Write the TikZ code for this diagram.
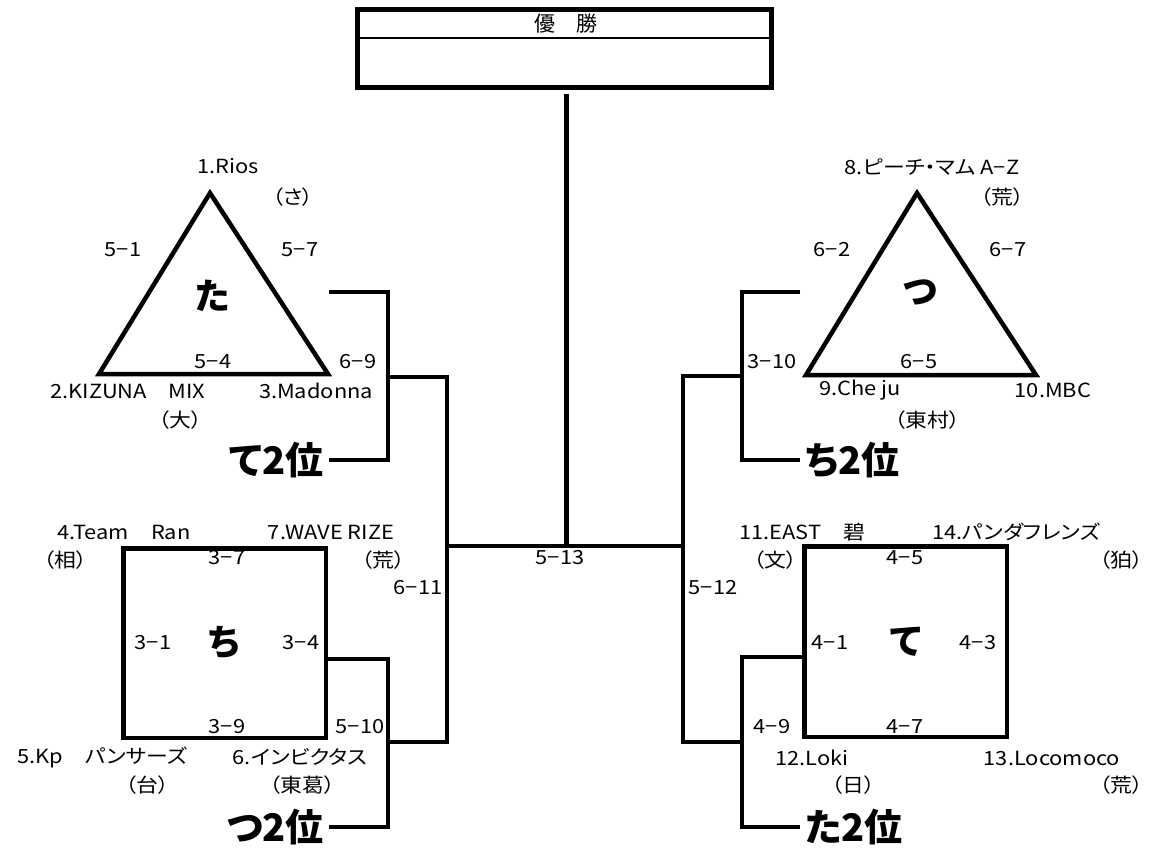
\documentclass[tikz,border=0pt]{standalone}
\usepackage{fontspec}
\setmainfont{Noto Sans CJK JP}[RawFeature={+palt}]
\newfontfamily\lblfont{Noto Sans CJK JP}[RawFeature={+palt}, FakeStretch=1.12]
\usetikzlibrary{positioning}

\begin{document}
\begin{tikzpicture}[x=1pt, y=-1pt,
  lbl/.style={font=\lblfont\fontsize{19.5}{19.5}\selectfont, inner sep=1pt},
  pool/.style={font=\fontsize{36}{36}\selectfont\bfseries},
  rank/.style={font=\fontsize{38}{38}\selectfont\bfseries, inner sep=5pt},
  frame/.style={draw, line width=4.5pt},
  wire/.style={line width=4pt}]
  \useasboundingbox (0,0) rectangle (1154,850);

  % champion
  \node[draw, line width=5pt, minimum width=414pt, minimum height=78pt, inner sep=0pt] (champ) at (564.5,48.5) {};
  \draw[line width=1.2pt] (champ.west |- 0,38) -- (champ.east |- 0,38);
  \node[lbl, font=\fontsize{21}{21}\selectfont] (yusho) at (566,24) {優　勝};
  \coordinate (stem) at (566,94);
  \coordinate (final) at (566,546);
  \coordinate (lsemi) at (447,546);
  \coordinate (rsemi) at (683,546);
  \draw[wire, line width=5pt] (stem) -- (final);
  \draw[wire] (lsemi) -- (rsemi);
  \node[lbl] (final-s) at (560,558) {5−13};

  % pool ta
  \coordinate (ta-top) at (210,193);
  \coordinate (ta-left) at (99,374);
  \coordinate (ta-right) at (328,374);
  \draw[frame] (ta-top) -- (ta-left) -- (ta-right) -- cycle;
  \node[pool] (ta) at (213,296) {た};
  \node[lbl] (rios) at (228,166) {1.Rios};
  \node[lbl] (rios-c) at (293,197) {（さ）};
  \node[lbl] (ta-s1) at (123,250) {5−1};
  \node[lbl] (ta-s2) at (300,250) {5−7};
  \node[lbl] (ta-s3) at (213,362) {5−4};
  \node[lbl] (ta-s4) at (358,362) {6−9};
  \node[lbl] (kizuna) at (128,391) {2.KIZUNA　MIX};
  \node[lbl] (kizuna-c) at (180,420) {（大）};
  \node[lbl] (madonna) at (316,391) {3.Madonna};
  \node[rank, anchor=east] (te2) at (329,460) {て2位};

  % pool tsu
  \coordinate (tsu-top) at (917,193);
  \coordinate (tsu-left) at (806,375);
  \coordinate (tsu-right) at (1036,375);
  \draw[frame] (tsu-top) -- (tsu-left) -- (tsu-right) -- cycle;
  \node[pool] (tsu) at (920,292) {つ};
  \node[lbl] (peach) at (932,167) {8.ピーチ・マム A−Z};
  \node[lbl] (peach-c) at (1002,197) {（荒）};
  \node[lbl] (tsu-s1) at (832,250) {6−2};
  \node[lbl] (tsu-s2) at (1008,250) {6−7};
  \node[lbl] (tsu-s3) at (919,362) {6−5};
  \node[lbl] (tsu-s4) at (772,362) {3−10};
  \node[lbl] (cheju) at (860,390) {9.Che ju};
  \node[lbl] (cheju-c) at (927,420) {（東村）};
  \node[lbl] (mbc) at (1053,390) {10.MBC};
  \node[rank, anchor=west] (chi2) at (800,460) {ち2位};

  % pool chi
  \node[frame, pool, minimum width=202.5pt, minimum height=189.5pt] (chi) at (224.5,643) {ち};
  \node[lbl] (ran) at (124,532) {4.Team　Ran};
  \node[lbl] (ran-c) at (65,560) {（相）};
  \node[lbl] (wave) at (331,532) {7.WAVE RIZE};
  \node[lbl] (wave-c) at (383,560) {（荒）};
  \node[lbl] (chi-s1) at (227,558) {3−7};
  \node[lbl] (chi-s2) at (153,643) {3−1};
  \node[lbl] (chi-s3) at (301,643) {3−4};
  \node[lbl] (chi-s4) at (227,727) {3−9};
  \node[lbl] (chi-s5) at (360,727) {5−10};
  \node[lbl] (kp) at (102,757) {5.Kp　パンサーズ};
  \node[lbl] (kp-c) at (147,785) {（台）};
  \node[lbl] (invi) at (300,757) {6.インビクタス};
  \node[lbl] (invi-c) at (302,785) {（東葛）};
  \node[rank, anchor=east] (tsu2) at (329,827) {つ2位};

  % pool te
  \node[frame, pool, minimum width=202.5pt, minimum height=190.5pt] (te) at (905.5,641.5) {て};
  \node[lbl] (east) at (802,532) {11.EAST　碧};
  \node[lbl] (east-c) at (775,560) {（文）};
  \node[lbl] (panda) at (1016,532) {14.パンダフレンズ};
  \node[lbl] (panda-c) at (1121,560) {（狛）};
  \node[lbl] (te-s1) at (905,558) {4−5};
  \node[lbl] (te-s2) at (830,643) {4−1};
  \node[lbl] (te-s3) at (978,643) {4−3};
  \node[lbl] (te-s4) at (905,727) {4−7};
  \node[lbl] (te-s5) at (772,727) {4−9};
  \node[lbl] (loki) at (812,758) {12.Loki};
  \node[lbl] (loki-c) at (853,785) {（日）};
  \node[lbl] (loco) at (1052,758) {13.Locomoco};
  \node[lbl] (loco-c) at (1121,785) {（荒）};
  \node[rank, anchor=west] (ta2) at (800,827) {た2位};

  % left brackets
  \coordinate (qa1) at (329,292);
  \coordinate (qa2) at (388,460);
  \coordinate (qa) at (388,377);
  \coordinate (qb) at (388,742);
  \coordinate (qb2) at (388,827);
  \coordinate (sa) at (447,377);
  \coordinate (sb) at (447,742);
  \node[lbl] (semi-l) at (418,588) {6−11};
  \draw[wire] (qa1) -| (qa2) -- (te2.east);
  \draw[wire] (chi.east |- 0,659) -| (qb2) -- (tsu2.east);
  \draw[wire] (qa) -- (sa) -- (sb) -- (qb);

  % right brackets
  \coordinate (qc1) at (800,292);
  \coordinate (qc2) at (742,460);
  \coordinate (qc) at (742,376);
  \coordinate (qd) at (742,742);
  \coordinate (qd2) at (742,827);
  \coordinate (sc) at (683,376);
  \coordinate (sd) at (683,742);
  \node[lbl] (semi-r) at (713,588) {5−12};
  \draw[wire] (qc1) -| (qc2) -- (chi2.west);
  \draw[wire] (te.west |- 0,657) -| (qd2) -- (ta2.west);
  \draw[wire] (qc) -- (sc) -- (sd) -- (qd);
\end{tikzpicture}
\end{document}
